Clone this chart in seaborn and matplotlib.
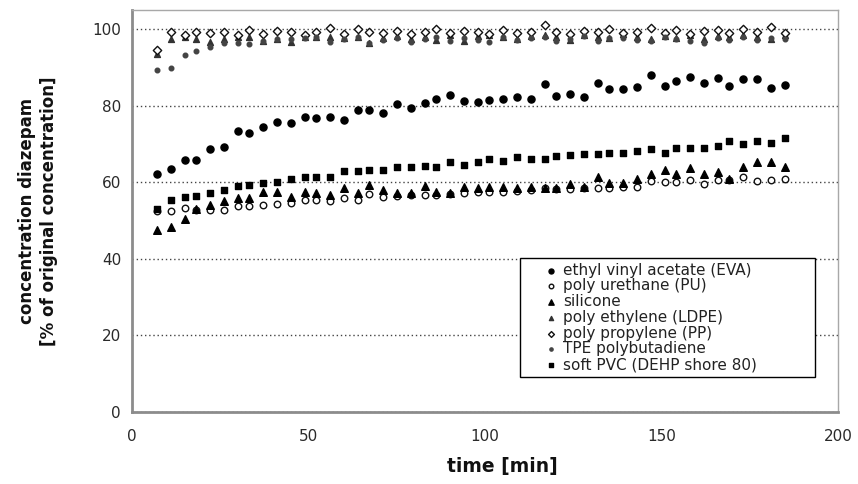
import matplotlib
matplotlib.use("Agg")
import matplotlib.pyplot as plt
import seaborn as sns

# sampling times (min)
time_min = [7, 11, 15, 18, 22, 26, 30, 33, 37, 41, 45, 49, 52, 56, 60, 64,
            67, 71, 75, 79, 83, 86, 90, 94, 98, 101, 105, 109, 113, 117, 120,
            124, 128, 132, 135, 139, 143, 147, 151, 154, 158, 162, 166, 169,
            173, 177, 181, 185]

# concentration diazepam, % of original
eva = [62.1, 63.6, 65.8, 65.8, 68.8, 69.3, 73.5, 72.8, 74.5, 75.8,
       75.5, 77.1, 76.8, 77.1, 76.4, 78.9, 79.0, 78.2, 80.6, 79.3,
       80.8, 81.9, 82.8, 81.3, 81.0, 81.6, 81.9, 82.3, 81.9, 85.6,
       82.5, 83.2, 82.3, 86.0, 84.5, 84.5, 84.9, 88.0, 85.1, 86.4,
       87.6, 86.0, 87.3, 85.1, 86.9, 86.9, 84.7, 85.4]
pu = [52.5, 52.6, 53.2, 52.7, 52.8, 52.7, 53.8, 53.8, 54.0, 54.3,
      54.6, 55.5, 55.5, 55.2, 55.8, 55.4, 56.9, 56.2, 56.5, 56.6,
      56.7, 56.8, 57.0, 57.2, 57.5, 57.5, 57.6, 57.8, 58.0, 58.4,
      58.2, 58.3, 58.5, 58.4, 58.6, 58.7, 58.8, 60.4, 60.1, 60.1,
      60.6, 59.5, 60.6, 60.5, 61.3, 60.4, 60.6, 61.0]
silicone = [47.5, 48.4, 50.4, 53.0, 54.0, 55.0, 56.0, 56.0, 57.5, 57.5,
            56.2, 57.4, 57.1, 56.8, 58.6, 57.1, 59.3, 58.0, 57.3, 57.1,
            59.0, 57.5, 57.3, 58.8, 58.4, 58.8, 58.9, 58.6, 58.8, 58.6,
            58.6, 59.5, 58.9, 61.3, 59.9, 59.7, 60.8, 62.1, 63.2, 62.3,
            63.8, 62.3, 62.7, 60.8, 63.9, 65.4, 65.4, 63.9]
ldpe = [93.5, 97.5, 98.0, 97.5, 96.6, 97.5, 98.0, 98.0, 97.0, 97.5,
        96.8, 98.0, 98.0, 98.0, 97.8, 98.0, 96.5, 97.8, 98.2, 97.5,
        98.0, 97.2, 98.4, 97.0, 98.3, 98.5, 98.0, 97.4, 98.2, 98.6,
        98.0, 97.3, 98.4, 98.0, 97.6, 98.8, 98.1, 97.5, 98.3, 97.8,
        98.5, 97.4, 98.2, 97.9, 98.6, 98.0, 97.5, 98.4]
pp = [94.6, 99.4, 98.5, 99.2, 99.0, 99.2, 98.5, 99.8, 98.7, 99.6,
      99.4, 98.5, 99.4, 100.3, 98.8, 100.0, 99.4, 99.0, 99.6, 98.8,
      99.3, 100.1, 99.0, 99.5, 99.2, 98.9, 99.7, 99.1, 99.4, 101.0,
      99.2, 98.8, 99.6, 99.3, 100.2, 99.0, 99.4, 100.3, 99.1, 99.7,
      98.9, 99.5, 99.8, 99.0, 100.2, 99.3, 100.5, 99.0]
tpe = [89.4, 89.8, 93.3, 94.4, 95.5, 96.3, 96.5, 96.1, 97.0, 97.5,
       97.5, 97.8, 98.0, 96.8, 97.5, 98.0, 96.5, 97.2, 97.8, 96.8,
       97.5, 98.0, 97.0, 97.6, 97.3, 96.8, 97.9, 97.2, 97.6, 98.1,
       97.0, 97.5, 98.2, 96.9, 97.6, 97.8, 97.2, 96.9, 98.0, 97.4,
       97.0, 96.3, 97.7, 97.3, 97.9, 97.1, 97.6, 97.4]
pvc = [52.9, 55.4, 56.1, 56.4, 57.1, 58.1, 59.0, 59.3, 59.9, 60.1,
       60.8, 61.3, 61.4, 61.3, 62.9, 62.9, 63.2, 63.2, 64.0, 64.0,
       64.2, 64.0, 65.4, 64.5, 65.4, 66.0, 65.5, 66.7, 66.1, 66.0,
       66.8, 67.1, 67.5, 67.5, 67.7, 67.7, 68.2, 68.8, 67.7, 69.1,
       69.0, 69.1, 69.5, 70.8, 70.0, 70.8, 70.2, 71.5]

series = [
    ("ethyl vinyl acetate (EVA)", eva, dict(marker="o", s=26, color="black", edgecolor="black")),
    ("poly urethane (PU)", pu, dict(marker="o", s=22, color="white", edgecolor="#111111")),
    ("silicone", silicone, dict(marker="^", s=30, color="black", edgecolor="black")),
    ("poly ethylene (LDPE)", ldpe, dict(marker="^", s=18, color="#333333", edgecolor="#333333")),
    ("poly propylene (PP)", pp, dict(marker="D", s=18, color="white", edgecolor="#111111")),
    ("TPE polybutadiene", tpe, dict(marker="o", s=11, color="#444444", edgecolor="#444444")),
    ("soft PVC (DEHP shore 80)", pvc, dict(marker="s", s=24, color="black", edgecolor="black")),
]

sns.set_style("white")
plt.rcParams["font.family"] = ["DejaVu Sans"]

fig, ax = plt.subplots(figsize=(8.58, 4.84), dpi=100)
fig.subplots_adjust(left=0.154, right=0.977, bottom=0.149, top=0.979)

for name, vals, style in series:
    sns.scatterplot(x=time_min, y=vals, label=name, ax=ax, linewidth=1.0,
                    legend=False, zorder=3, **style)

ax.set_xlim(0, 200)
ax.set_ylim(0, 105)
ax.set_xticks([0, 50, 100, 150, 200])
ax.set_yticks([0, 20, 40, 60, 80, 100])
ax.yaxis.grid(True, linestyle=(0, (1, 2)), color="#444444", linewidth=1)
ax.xaxis.grid(False)
ax.set_axisbelow(True)

for side in ["left", "bottom"]:
    ax.spines[side].set_color("#8c8c8c")
    ax.spines[side].set_linewidth(2)
for side in ["top", "right"]:
    ax.spines[side].set_color("#a8a8a8")
    ax.spines[side].set_linewidth(1)

ax.tick_params(axis="y", direction="inout", length=8, width=1, color="#666666",
               pad=4, labelsize=11, labelcolor="#2a2a2a")
ax.tick_params(axis="x", direction="inout", length=6, width=1, color="#666666",
               pad=9, labelsize=11, labelcolor="#2a2a2a")

ax.set_xlabel("time [min]", fontsize=13.5, fontweight="bold", color="#111111")
ax.xaxis.set_label_coords(0.524, -0.112)
ax.set_ylabel("concentration diazepam\n[% of original concentration]", fontsize=12,
              fontweight="bold", color="#111111", linespacing=1.3)
ax.yaxis.set_label_coords(-0.105, 0.5)

leg = ax.legend(loc="upper left", bbox_to_anchor=(520 / 858, 93 / 484, 295 / 858, 133 / 484),
                bbox_transform=fig.transFigure, mode="expand", borderaxespad=0,
                fontsize=11, frameon=True, fancybox=False, edgecolor="black",
                framealpha=1, borderpad=0.3, labelspacing=0.05, handlelength=3.5,
                handletextpad=-1.0, markerscale=0.7, scatterpoints=1)
leg.get_frame().set_linewidth(1.0)
for t in leg.get_texts():
    t.set_color("#222222")

fig.savefig("out.png", dpi=100)
